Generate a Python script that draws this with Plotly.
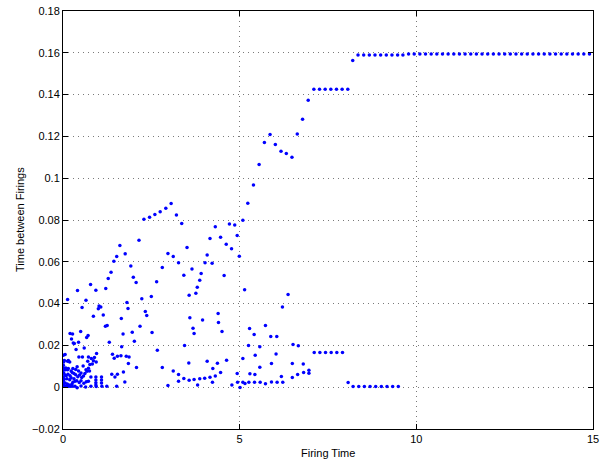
import plotly.graph_objects as go

# ---- data ----
cluster_x = [0.01, 0.02, 0.01, 0.02, 0.01, 0.02, 0.01, 0.02, 0.01, 0.02,
             0.06, 0.04, 0.15, 0.19, 0.13, 0.45, 0.55, 0.72, 0.80, 0.89, 0.95, 0.86, 0.83, 0.70, 0.76,
             0.94, 0.57, 0.72, 0.15, 0.08, 0.07, 0.13, 0.23, 0.36, 0.44, 0.51, 0.31, 0.36, 0.65, 0.68,
             0.62, 0.75, 0.58, 0.79, 0.93, 0.93, 0.93, 1.09, 1.09, 1.09, 0.03, 0.11, 0.19, 0.23, 0.28,
             0.34, 0.39, 0.46, 0.51, 0.59, 0.66, 0.72, 0.04, 0.10, 0.16, 0.21, 0.26, 0.34, 0.40, 0.51,
             0.64, 0.79, 0.94, 1.10, 1.24, 0.93, 0.05, 0.09, 0.14, 0.20, 0.26, 0.28, 0.40, 0.47, 0.53,
             0.06, 0.12, 0.17, 0.25, 0.31, 0.42]
cluster_y = [0.0153, 0.0121, 0.0105, 0.0092, 0.0081, 0.0068, 0.0049, 0.0038, 0.0025, 0.0013,
             0.0156, 0.0128, 0.0128, 0.0120, 0.0124, 0.0145, 0.0145, 0.0145, 0.0137, 0.0142, 0.0161, 0.0126, 0.0111, 0.0124, 0.0109,
             0.0120, 0.0102, 0.0091, 0.0089, 0.0092, 0.0084, 0.0084, 0.0078, 0.0085, 0.0078, 0.0068, 0.0066, 0.0059, 0.0084, 0.0076,
             0.0065, 0.0078, 0.0053, 0.0049, 0.0049, 0.0035, 0.0021, 0.0049, 0.0035, 0.0020, 0.0038, 0.0040, 0.0036, 0.0045, 0.0024,
             0.0028, 0.0031, 0.0022, 0.0031, 0.0019, 0.0026, 0.0029, 0.0004, 0.0004, 0.0004, 0.0004, 0.0004, 0.0004, -0.0003, 0.0006,
             0.0001, 0.0004, 0.0003, 0.0004, 0.0004, 0.0010, 0.0060, 0.0055, 0.0062, 0.0055, 0.0070, 0.0090, 0.0098, 0.0058, 0.0046,
             0.0020, 0.0015, 0.0010, 0.0014, 0.0040, 0.0050]

scatter_x = [0.78, 1.21, 0.93, 0.41, 0.13, 0.65, 0.54, 1.02, 1.07, 1.00, 0.86, 1.14, 1.20, 1.25, 0.71, 0.67,
             0.50, 0.20, 0.27, 0.24, 0.29, 0.32, 0.44, 0.37, 0.60, 1.31, 1.40, 1.45, 1.54, 1.66, 1.70, 1.65,
             1.81, 1.84, 1.79, 1.87, 1.96, 2.02, 2.08, 2.18, 2.23, 2.33, 2.37, 2.52, 2.50, 2.67, 2.65, 2.07,
             2.81, 2.97, 1.38, 1.47, 1.54, 1.71, 1.75, 1.52, 1.64, 1.85]
scatter_y = [0.0491, 0.0472, 0.0464, 0.0463, 0.0420, 0.0416, 0.0381, 0.0389, 0.0384, 0.0375, 0.0340, 0.0346, 0.0292, 0.0295, 0.0247, 0.0238,
             0.0266, 0.0257, 0.0254, 0.0231, 0.0212, 0.0209, 0.0215, 0.0180, 0.0187, 0.0215, 0.0158, 0.0139, 0.0148, 0.0193, 0.0254, 0.0329,
             0.0405, 0.0377, 0.0148, 0.0145, 0.0263, 0.0220, 0.0094, 0.0292, 0.0423, 0.0362, 0.0343, 0.0262, 0.0434, 0.0177, 0.0504, 0.0501,
             0.0094, 0.0008, 0.0062, 0.0049, 0.0062, 0.0073, 0.0025, 0.0005, 0.0150, 0.0113]

upper_left_x = [1.28, 1.36, 1.44, 1.52, 1.61, 1.76, 1.92, 1.99, 2.15, 2.29, 2.45, 2.60, 2.75, 2.91, 3.06, 3.21,
                3.36, 3.51, 2.81, 2.97, 3.12, 3.27, 3.42, 3.65, 3.91, 3.87, 4.02, 4.08, 4.16, 4.31, 4.46, 4.22,
                4.56, 4.62, 4.71, 4.86, 4.77, 4.93, 4.99]
upper_left_y = [0.0520, 0.0550, 0.0603, 0.0625, 0.0678, 0.0638, 0.0580, 0.0526, 0.0703, 0.0804, 0.0813, 0.0826, 0.0840, 0.0856, 0.0879, 0.0824,
                0.0783, 0.0668, 0.0573, 0.0640, 0.0625, 0.0596, 0.0536, 0.0565, 0.0544, 0.0512, 0.0595, 0.0632, 0.0711, 0.0768, 0.0717, 0.0593,
                0.0534, 0.0684, 0.0781, 0.0776, 0.0662, 0.0726, 0.0627]

middle_x = [3.12, 3.27, 3.27, 3.42, 3.44, 3.56, 3.57, 3.59, 3.57, 3.68, 3.71, 3.71, 3.76, 3.80, 3.81, 3.87,
            3.95, 4.01, 4.08, 4.16, 4.23, 4.24, 4.31, 4.37, 4.39, 4.40, 4.46, 4.50, 4.63, 4.78, 4.93, 4.94,
            5.01, 5.09, 5.09, 5.14, 5.15, 5.25, 5.26, 5.28, 5.29, 5.41, 5.42, 5.44, 5.43, 5.57, 5.57, 5.58,
            5.73, 5.73, 5.88, 5.90, 5.90, 6.03, 6.05, 6.06, 6.18, 6.22, 6.21, 6.37, 6.49, 6.49, 6.51, 6.66,
            6.64, 6.80, 6.81, 6.96, 6.96]
middle_y = [0.0078, 0.0061, 0.0029, 0.0042, 0.0200, 0.0116, 0.0440, 0.0332, 0.0033, 0.0282, 0.0257, 0.0037, 0.0450, 0.0478, 0.0010, 0.0040,
            0.0322, 0.0043, 0.0124, 0.0048, 0.0024, 0.0089, 0.0054, 0.0115, 0.0353, 0.0309, 0.0070, 0.0266, 0.0129, 0.0011, 0.0066, 0.0024,
            -0.0002, 0.0137, 0.0024, 0.0466, 0.0018, 0.0200, 0.0024, 0.0281, 0.0064, 0.0252, 0.0024, 0.0153, 0.0061, 0.0096, 0.0193, 0.0024,
            0.0295, 0.0016, 0.0243, 0.0113, 0.0025, 0.0159, 0.0243, 0.0024, 0.0051, 0.0024, 0.0384, 0.0443, 0.0113, 0.0046, 0.0204, 0.0198,
            0.0061, 0.0111, 0.0070, 0.0081, 0.0067]

lower_tail_x = [7.11, 7.27, 7.43, 7.59, 7.75, 7.91, 8.07, 8.21, 8.37, 8.53, 8.69, 8.85, 9.01, 9.17, 9.33, 9.49]
lower_tail_y = [0.0166, 0.0166, 0.0166, 0.0166, 0.0166, 0.0166, 0.0022, 0.0003, 0.0003, 0.0003, 0.0003, 0.0003,
                0.0003, 0.0003, 0.0003, 0.0003]

rising_x = [5.09, 5.23, 5.39, 5.55, 5.70, 5.86, 6.01, 6.17, 6.32, 6.48, 6.63, 6.78, 6.94,
            7.10, 7.26, 7.42, 7.58, 7.74, 7.90, 8.06, 8.20]
rising_y = [0.0799, 0.0880, 0.0968, 0.1065, 0.1171, 0.1209, 0.1161, 0.1129, 0.1118, 0.1100, 0.1212, 0.1282, 0.1373,
            0.1426, 0.1426, 0.1426, 0.1426, 0.1426, 0.1426, 0.1426, 0.1563]

upper_tail_x = [8.35, 8.51, 8.67, 8.83, 8.99, 9.15, 9.31, 9.47, 9.62, 9.78, 9.94, 10.10, 10.26, 10.42, 10.58,
                10.74, 10.90, 11.06, 11.22, 11.38, 11.54, 11.70, 11.86, 12.02, 12.18, 12.34, 12.50, 12.66,
                12.82, 12.98, 13.14, 13.30, 13.46, 13.62, 13.78, 13.94, 14.10, 14.26, 14.42, 14.58, 14.74, 14.90]
upper_tail_y = [0.1589, 0.1589, 0.1589, 0.1589, 0.1589, 0.1589, 0.1589, 0.1589, 0.1589, 0.1594, 0.1594, 0.1594,
                0.1594, 0.1594, 0.1594, 0.1594, 0.1594, 0.1594, 0.1594, 0.1594, 0.1594, 0.1594, 0.1594, 0.1594,
                0.1594, 0.1594, 0.1594, 0.1594, 0.1594, 0.1594, 0.1594, 0.1594, 0.1594, 0.1594, 0.1594, 0.1594,
                0.1594, 0.1594, 0.1594, 0.1594, 0.1594, 0.1594]

x_ticks = [0, 5, 10, 15]
y_ticks = [-0.02, 0, 0.02, 0.04, 0.06, 0.08, 0.1, 0.12, 0.14, 0.16, 0.18]
y_tick_text = ["\u22120.02", "0", "0.02", "0.04", "0.06", "0.08", "0.1", "0.12", "0.14", "0.16", "0.18"]

all_x = cluster_x + scatter_x + upper_left_x + middle_x + lower_tail_x + rising_x + upper_tail_x
all_y = cluster_y + scatter_y + upper_left_y + middle_y + lower_tail_y + rising_y + upper_tail_y

FONT = "Liberation Sans, Arial, Helvetica, sans-serif"

fig = go.Figure()
fig.add_trace(go.Scatter(x=all_x, y=all_y, mode="markers",
                         marker=dict(color="#0000ff", size=3.5, line=dict(width=0)),
                         hoverinfo="x+y"))

axis_common = dict(showline=True, linecolor="black", linewidth=1, mirror="ticks",
                   ticks="inside", ticklen=5, tickcolor="black", tickwidth=1,
                   showgrid=True, gridcolor="#7a7a7a", griddash="1px,4px", gridwidth=1,
                   zeroline=False, tickfont=dict(family=FONT, size=11, color="black"))

fig.update_layout(
    width=605, height=461,
    margin=dict(l=63, r=12, t=11, b=32, autoexpand=False),
    paper_bgcolor="white", plot_bgcolor="white",
    showlegend=False,
    xaxis=dict(range=[0, 15], tickvals=x_ticks, ticktext=[str(v) for v in x_ticks], **axis_common),
    yaxis=dict(range=[-0.02, 0.18], tickvals=y_ticks, ticktext=y_tick_text, **axis_common),
    annotations=[
        dict(text="Firing Time", xref="paper", yref="paper", x=0.5, y=0, yshift=-24,
             xanchor="center", yanchor="middle", showarrow=False,
             font=dict(family=FONT, size=11, color="black")),
        dict(text="Time between Firings", xref="paper", yref="paper", x=0, y=0.5, xshift=-43,
             xanchor="center", yanchor="middle", textangle=-90, showarrow=False,
             font=dict(family=FONT, size=11, color="black")),
    ],
)

# remove the browser's default 8px body margin so the figure sits at the page origin
fig.write_html("out.html",
               config={"displayModeBar": False},
               post_script="document.body.style.margin='0';document.body.style.overflow='hidden';")
